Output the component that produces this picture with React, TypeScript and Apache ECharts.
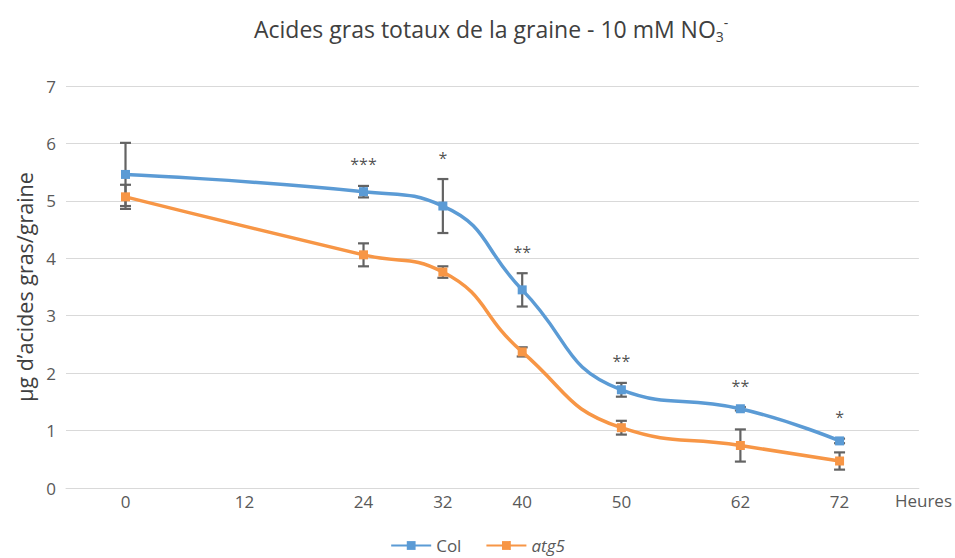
import React, { useEffect, useRef } from "react";
import * as echarts from "echarts";

const hours = [0, 24, 32, 40, 50, 62, 72];
const colMean = [5.46, 5.16, 4.91, 3.45, 1.71, 1.38, 0.82];
const colErr = [0.55, 0.1, 0.47, 0.29, 0.12, 0.03, 0.04];
const atgMean = [5.07, 4.06, 3.76, 2.37, 1.05, 0.74, 0.47];
const atgErr = [0.21, 0.2, 0.1, 0.08, 0.12, 0.28, 0.15];
const stars = ["", "***", "*", "**", "**", "**", "*"];
const xTickLabels = [0, 12, 24, 32, 40, 50, 62, 72];

const FONT = "'Open Sans', sans-serif";
const BLUE = "#5B9BD5";
const ORANGE = "#F79646";
const ERR = "#636363";

function errorData(mean: number[], err: number[]) {
  return hours.map((h, i) => [h, mean[i] - err[i], mean[i] + err[i]]);
}

function renderErr(params: any, api: any) {
  const x = api.value(0);
  const lo = api.value(1);
  const hi = api.value(2);
  const top = api.coord([x, hi]);
  const bot = api.coord([x, lo]);
  const w = 5.5;
  const style = { stroke: ERR, lineWidth: 2.2 };
  return {
    type: "group",
    children: [
      { type: "line", shape: { x1: top[0], y1: top[1], x2: bot[0], y2: bot[1] }, style },
      { type: "line", shape: { x1: top[0] - w, y1: top[1], x2: top[0] + w, y2: top[1] }, style },
      { type: "line", shape: { x1: bot[0] - w, y1: bot[1], x2: bot[0] + w, y2: bot[1] }, style },
    ],
  };
}

export default function App() {
  const ref = useRef<HTMLDivElement>(null);
  useEffect(() => {
    if (!ref.current) return;
    const chart = echarts.init(ref.current, null, { renderer: "svg" });
    chart.setOption({
      animation: false,
      backgroundColor: "#ffffff",
      textStyle: { fontFamily: FONT },
      title: {
        text: "Acides gras totaux de la graine - 10 mM NO{sub|3}{sup|-}",
        left: 249,
        top: 9,
        textStyle: {
          fontFamily: FONT,
          fontSize: 23,
          fontWeight: "normal",
          color: "#404040",
          rich: {
            sub: { fontFamily: FONT, fontSize: 14, color: "#404040", padding: [15, 0, 0, 0] },
            sup: { fontFamily: FONT, fontSize: 14, color: "#404040", padding: [0, 0, 12, 0] },
          },
        },
      },
      grid: { left: 66, right: 33, top: 86, bottom: 70, containLabel: false },
      legend: {
        data: ["Col", "atg5"],
        top: 532,
        left: "center",
        itemWidth: 40,
        itemHeight: 11,
        itemGap: 24,
        textStyle: {
          fontFamily: FONT,
          fontSize: 17,
          color: "#595959",
          rich: { i: { fontFamily: FONT, fontSize: 17, color: "#595959", fontStyle: "italic" } },
        },
        formatter: (name: string) => (name === "atg5" ? "{i|atg5}" : name),
      },
      xAxis: {
        type: "value",
        min: -6,
        max: 80,
        name: "Heures",
        nameLocation: "end",
        nameGap: -24,
        nameTextStyle: {
          fontFamily: FONT,
          fontSize: 17,
          color: "#595959",
          align: "left",
          verticalAlign: "top",
          padding: [4, 0, 0, 0],
        },
        axisLine: { show: true, lineStyle: { color: "#D9D9D9", width: 1 } },
        axisTick: { show: false },
        splitLine: { show: false },
        axisLabel: {
          customValues: xTickLabels,
          fontFamily: FONT,
          fontSize: 17,
          color: "#595959",
          margin: 5,
        },
      },
      yAxis: {
        type: "value",
        min: 0,
        max: 7,
        interval: 1,
        name: "µg d’acides gras/graine",
        nameLocation: "middle",
        nameGap: 30,
        nameTextStyle: { fontFamily: FONT, fontSize: 21.5, color: "#404040" },
        axisLine: { show: false },
        axisTick: { show: false },
        splitLine: { lineStyle: { color: "#D9D9D9", width: 1 } },
        axisLabel: {
          fontFamily: FONT,
          fontSize: 17,
          color: "#595959",
          margin: 10,
        },
      },
      series: [
        {
          name: "ColErr",
          type: "custom",
          renderItem: renderErr,
          data: errorData(colMean, colErr),
          encode: { x: 0, y: [1, 2] },
          z: 3,
          silent: true,
        },
        {
          name: "atgErr",
          type: "custom",
          renderItem: renderErr,
          data: errorData(atgMean, atgErr),
          encode: { x: 0, y: [1, 2] },
          z: 3,
          silent: true,
        },
        {
          name: "Col",
          type: "line",
          smooth: true,
          data: hours.map((h, i) => [h, colMean[i]]),
          symbol: "rect",
          symbolSize: 9,
          itemStyle: { color: BLUE },
          lineStyle: { color: BLUE, width: 3.5 },
          z: 4,
        },
        {
          name: "atg5",
          type: "line",
          smooth: true,
          data: hours.map((h, i) => [h, atgMean[i]]),
          symbol: "rect",
          symbolSize: 9,
          itemStyle: { color: ORANGE },
          lineStyle: { color: ORANGE, width: 3.5 },
          z: 4,
        },
        {
          name: "stars",
          type: "scatter",
          data: hours.map((h, i) => [h, colMean[i] + colErr[i], stars[i]]),
          symbolSize: 1,
          itemStyle: { color: "rgba(0,0,0,0)" },
          label: {
            show: true,
            position: "top",
            distance: 13,
            formatter: (p: any) => p.value[2],
            fontFamily: FONT,
            fontSize: 16,
            color: "#1f1f1f",
          },
          z: 5,
          silent: true,
        },
      ],
    });
    return () => chart.dispose();
  }, []);
  return <div ref={ref} style={{ width: 955, height: 558, position: "absolute", left: 0, top: 0 }} />;
}
